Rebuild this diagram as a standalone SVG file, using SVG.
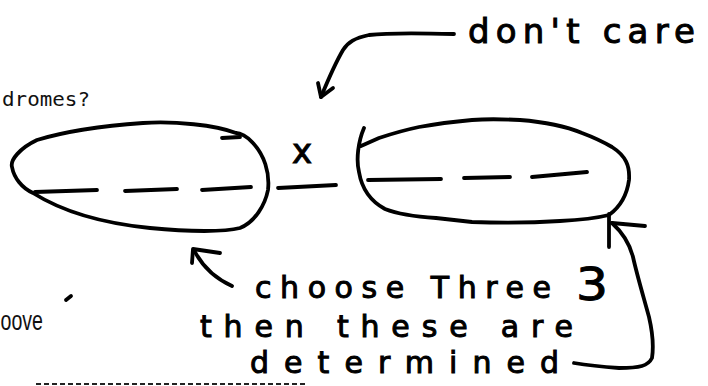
<svg xmlns="http://www.w3.org/2000/svg" width="708" height="386" viewBox="0 0 708 386">
<style>
.ink{fill:none;stroke:#000;stroke-width:3.8;stroke-linecap:round;stroke-linejoin:round}
.hand{font-family:"DejaVu Sans","Liberation Sans",sans-serif;fill:#000;stroke:#000;stroke-width:1}
.print{fill:#111}
</style>
<rect width="708" height="386" fill="#fff"/>
<g id="printed">
<text class="print" x="2" y="106" font-family="DejaVu Sans Mono, Liberation Mono, monospace" font-size="19" textLength="88" lengthAdjust="spacingAndGlyphs">dromes?</text>
<text class="print" x="0.5" y="330" font-family="Liberation Sans, Arial, sans-serif" font-size="27" textLength="42.5" lengthAdjust="spacingAndGlyphs">oove</text>
<line x1="36" y1="384" x2="308" y2="384" stroke="#222" stroke-width="2" stroke-dasharray="5 3"/>
<path class="ink" d="M66,300 L71,296" stroke-width="2.5"/>
</g>
<g id="left-block">
<path class="ink" d="M236,133 C215,125 175,121 143,123 C100,126 60,133 37,140 C20,148 10,160 12,167 C14,178 22,188 33,193 C60,210 100,223 150,228 C190,232 225,232 240,228 C255,222 265,205 268,190 C270,172 264,155 253,143 C247,136 240,133 236,133 Z"/>
<path class="ink" d="M222,138 L240,137"/>
<path class="ink" d="M35,192 L97,190 M125,191 L177,189 M202,190 L251,187"/>
</g>
<g id="middle">
<path class="ink" d="M278,188 L336,185"/>
<text class="hand" x="302" y="163" font-size="34" text-anchor="middle" stroke-width="1.5">x</text>
</g>
<g id="right-block">
<path class="ink" d="M364,128 C358,142 356,160 359,172 C362,190 372,202 385,209 C400,215 420,217 436,218 L472,222 C500,223 530,223 560,221 C580,220 597,218 609,215 C620,207 627,195 629,180 C630,166 626,156 612,147 C600,140 590,136 582,133 C565,126 545,122 520,120 C500,119 485,119 472,120 C450,122 430,125 419,127 C400,131 385,136 379,138 L361,146"/>
<path class="ink" d="M368,180 L441,179 M464,178 L510,177 M532,177 L587,172"/>
</g>
<g id="labels">
<text class="hand" x="468" y="43" font-size="34" textLength="227" lengthAdjust="spacing">don't care</text>
<text class="hand" x="255" y="298" font-size="30" textLength="296" lengthAdjust="spacing">choose Three</text>
<text class="hand" x="576" y="300" font-size="44" textLength="32" lengthAdjust="spacingAndGlyphs">3</text>
<text class="hand" x="200" y="337" font-size="30" textLength="373" lengthAdjust="spacing">then these are</text>
<text class="hand" x="250" y="373" font-size="30" textLength="309" lengthAdjust="spacing">determined</text>
</g>
<g id="connectors">
<path class="ink" d="M454,34 C420,33 385,33 369,35 C355,38 348,42 343,50 C336,62 328,80 321,97"/>
<path class="ink" d="M318,83 L321,97 L333,88"/>
<path class="ink" d="M192,263 L193,249 L220,253"/>
<path class="ink" d="M194,250 C200,262 210,276 232,286"/>
<path class="ink" d="M609,247 L609,214"/>
<path class="ink" d="M612,223 L645,226"/>
<path class="ink" d="M612,223 C622,232 630,245 633,257 C637,275 643,295 649,317 C652,330 654,345 652,358 C648,366 640,368 619,368 C605,367 592,366 574,363"/>
</g>
</svg>
